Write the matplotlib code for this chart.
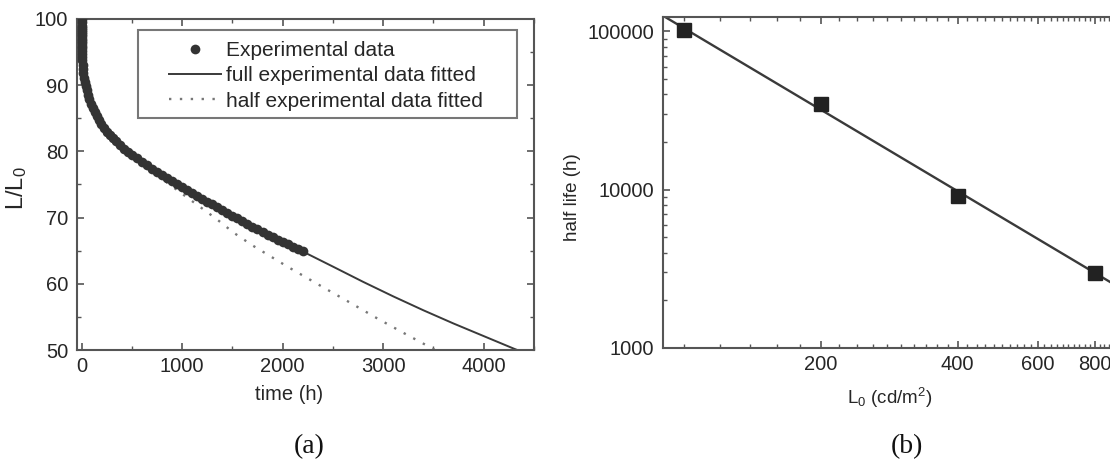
import matplotlib.pyplot as plt
from matplotlib.ticker import MultipleLocator, FixedLocator, NullFormatter, FuncFormatter, LogLocator
from matplotlib.patches import Rectangle

plt.rcParams['font.family'] = ['Liberation Sans', 'DejaVu Sans']
plt.rcParams['mathtext.default'] = 'regular'

# (a) luminance decay
exp_t = [0, 0.002, 0.01, 0.03, 0.05, 0.1, 0.2, 0.3, 0.5, 0.7, 1, 1.5, 2, 3, 4, 5, 7, 10, 14, 19,
         25, 32, 40, 50, 62, 76, 92, 110, 130, 150, 170, 195, 220, 250, 280, 310, 345, 380, 420, 460,
         500, 550, 600, 650, 700, 750, 800, 850, 900, 950, 1000, 1050, 1100, 1150, 1200, 1250,
         1300, 1350, 1400, 1450, 1500, 1550, 1600, 1650, 1700, 1750, 1800, 1850, 1900, 1950,
         2000, 2050, 2100, 2150, 2200]
exp_L = [100, 99.5, 99.0, 98.65, 98.4, 98.1, 97.7, 97.4, 97.0, 96.7, 96.4, 95.95, 95.6, 95.1, 94.7, 94.3, 93.8, 93.1, 92.4, 91.8,
         91.1, 90.5, 89.9, 89.2, 88.5, 87.9, 87.2, 86.5, 85.9, 85.3, 84.8, 84.2, 83.6, 83.0, 82.5, 82.0, 81.5, 80.9, 80.4, 79.9,
         79.50, 78.96, 78.43, 77.91, 77.40, 76.90, 76.41, 75.93, 75.46, 75.00, 74.55, 74.11, 73.68, 73.25, 72.83, 72.41,
         71.99, 71.57, 71.15, 70.73, 70.31, 69.89, 69.47, 69.05, 68.63, 68.22, 67.82, 67.43, 67.05, 66.68,
         66.32, 65.96, 65.60, 65.24, 64.88]

full_t = [0, 0.01, 0.1, 1, 5, 10, 25, 40, 76, 130, 220, 345, 460, 600, 800, 1000, 1200, 1400, 1600,
          1800, 2000, 2200, 2500, 2800, 3100, 3400, 3700, 4000, 4300, 4500]
full_L = [100, 99.0, 98.1, 96.4, 94.3, 93.1, 91.1, 89.9, 87.9, 85.9, 83.6, 81.5, 79.9, 78.43, 76.41, 74.55, 72.83, 71.15, 69.47,
          67.82, 66.32, 64.88, 62.6, 60.3, 58.1, 56.0, 54.0, 52.1, 50.2, 49.0]

half_t = [0, 0.01, 0.1, 1, 5, 10, 25, 40, 76, 130, 220, 345, 460, 700, 1000, 1333, 1515, 1700,
          2047, 2400, 2700, 2938, 3200, 3468, 3700]
half_L = [100, 99.0, 98.1, 96.4, 94.3, 93.1, 91.1, 89.9, 87.9, 85.9, 83.6, 81.5, 79.8, 77.0, 73.6, 69.9, 67.7, 65.8,
          62.6, 59.5, 56.9, 54.8, 52.6, 50.4, 48.5]

# (b) half life vs initial luminance
L0 = [100, 200, 400, 800]
half_life = [102000, 34700, 9070, 2970]
fit_L0 = [90, 1000]
fit_life = [126000, 2030]

W, H = 1110, 461
fig = plt.figure(figsize=(W / 100, H / 100), dpi=100)
axa = fig.add_axes([76.5 / W, (H - 350) / H, 457.5 / W, 331 / H])
axb = fig.add_axes([662.8 / W, (H - 347.7) / H, 476 / W, 331 / H])

dark = '#262626'
spine = '#555555'

axa.plot(half_t, half_L, color='#777777', lw=1.7, dashes=(1, 3.6), zorder=2,
         label='half experimental data fitted')
axa.plot(full_t, full_L, color='#3a3a3a', lw=1.4, zorder=2,
         label='full experimental data fitted')
axa.plot(exp_t, exp_L, 'o', color='#333333', ms=7, mec='none', zorder=3,
         label='Experimental data')
axa.set_xlim(-50, 4500)
axa.set_ylim(50, 100)
axa.xaxis.set_major_locator(MultipleLocator(1000))
axa.xaxis.set_minor_locator(MultipleLocator(500))
axa.yaxis.set_major_locator(MultipleLocator(10))
axa.yaxis.set_minor_locator(MultipleLocator(5))
axa.set_xlabel('time (h)', fontsize=14.5, color=dark)
axa.set_ylabel('L/L$_0$', fontsize=17, color=dark)
axa.xaxis.set_label_coords(0.464, -0.105)
axa.yaxis.set_label_coords(-0.104, 0.49)

h = axa.get_legend_handles_labels()
order = [2, 1, 0]
axa.legend([h[0][i] for i in order], [h[1][i] for i in order], loc='upper left',
           bbox_to_anchor=(0.202, 0.934), frameon=False, borderpad=0, borderaxespad=0,
           handlelength=2.5, handletextpad=0.25, labelspacing=0.31, fontsize=15,
           labelcolor=dark, markerscale=1.0)
axa.add_patch(Rectangle((0.134, 0.701), 0.829, 0.266, transform=axa.transAxes,
                        fill=False, ec='#777777', lw=1.5, clip_on=False))

axb.plot(fit_L0, fit_life, color='#3a3a3a', lw=1.7, zorder=2)
axb.plot(L0, half_life, 's', color='#222222', ms=10, zorder=3)
axb.set_xscale('log')
axb.set_yscale('log')
axb.set_xlim(90, 1000)
axb.set_ylim(1000, 124000)
axb.xaxis.set_major_locator(FixedLocator([200, 400, 600, 800, 1000]))
axb.xaxis.set_major_formatter(FuncFormatter(lambda v, p: '%d' % v))
axb.xaxis.set_minor_locator(FixedLocator([v for v in range(100, 1001, 20) if v % 200]))
axb.xaxis.set_minor_formatter(NullFormatter())
axb.yaxis.set_major_locator(LogLocator(base=10))
axb.yaxis.set_major_formatter(FuncFormatter(lambda v, p: '%d' % v))
axb.yaxis.set_minor_locator(LogLocator(base=10, subs=range(2, 10)))
axb.yaxis.set_minor_formatter(NullFormatter())
axb.set_xlabel('L$_0$ (cd/m$^2$)', fontsize=13.5, color=dark)
axb.set_ylabel('half life (h)', fontsize=13.5, color=dark)
axb.xaxis.set_label_coords(0.477, -0.115)
axb.yaxis.set_label_coords(-0.172, 0.455)

for ax in (axa, axb):
    for s in ax.spines.values():
        s.set_color(spine)
        s.set_linewidth(1.5)
    ax.tick_params(which='both', direction='in', top=True, right=True, color=spine,
                   labelsize=14.5, labelcolor=dark)
    ax.tick_params(which='major', length=5, width=1.2)
    ax.tick_params(which='minor', length=3, width=1.0)
    ax.tick_params(axis='x', pad=5)
    ax.tick_params(axis='y', pad=6)

fig.text(309 / W, 1 - 447 / H, '(a)', family='Liberation Serif', fontsize=20,
         ha='center', va='center', color='#111111')
fig.text(907 / W, 1 - 447 / H, '(b)', family='Liberation Serif', fontsize=20,
         ha='center', va='center', color='#111111')

fig.savefig('out.png', dpi=100)
